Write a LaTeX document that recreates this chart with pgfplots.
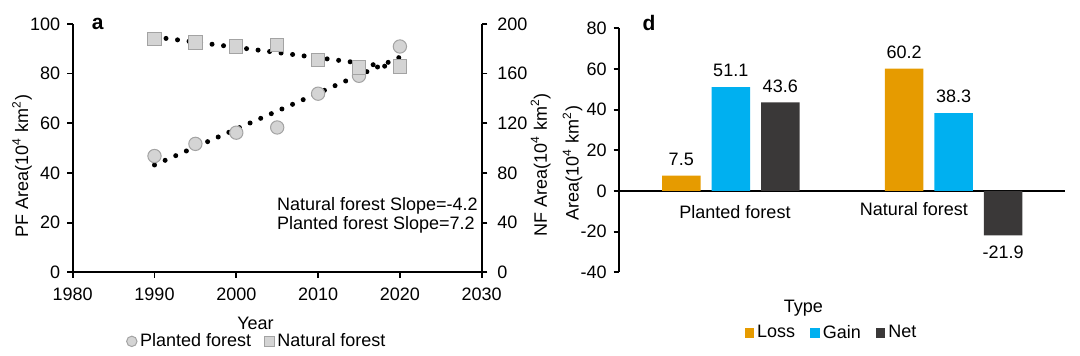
\documentclass[border=0pt]{standalone}
\usepackage{fontspec}
\setmainfont{Liberation Sans}
\usepackage{pgfplots}
\pgfplotsset{compat=1.18}
\definecolor{lossc}{HTML}{E69B00}
\definecolor{gainc}{HTML}{00B0F0}
\definecolor{netc}{HTML}{3A3838}
\definecolor{mfill}{HTML}{D4D4D4}
\definecolor{mdraw}{HTML}{A3A3A3}
\newcommand{\fs}{\fontsize{9}{10.8}\selectfont}
\begin{document}
\begin{tikzpicture}
\useasboundingbox (0,0) rectangle (540pt,178pt);
\pgfplotsset{
 base/.style={scale only axis, clip=false, font=\fs, tick label style={font=\fs}, label style={font=\fs},
  /pgf/number format/assume math mode=true, /pgf/number format/1000 sep={},
  axis line style={line width=0.9pt, black}, major tick style={line width=0.9pt, black},
  major tick length=2.8pt, tick align=outside},
 trend/.style={black, line width=2.5pt, line cap=round, dash pattern=on 0pt off 5.8pt, forget plot},
}
% ---- panel a, left axis (PF)
\begin{axis}[base, at={(36.35pt,41.85pt)}, anchor=south west, width=204.5pt, height=124.2pt,
 xmin=1980, xmax=2030, ymin=0, ymax=100, xtick={1980,1990,...,2030}, ytick={0,20,...,100},
 axis x line*=bottom, axis y line*=left,
 xticklabel style={yshift=-1.5pt},
 xlabel={Year}, xlabel style={at={(rel axis cs:0.447,0)}, anchor=center, yshift=-25.35pt},
 ylabel={PF Area(10\textsuperscript{4} km\textsuperscript{2})},
 ylabel style={at={(rel axis cs:0,0.428)}, anchor=center, yshift=25.3pt},
 legend style={at={(0.452,-0.278)}, anchor=center, draw=none, fill=none, font=\fs, inner sep=0pt,
  nodes={inner xsep=1.5pt, inner ysep=0pt},
  /tikz/every even column/.append style={column sep=5pt}},
 legend columns=2, legend cell align=left,
 legend image code/.code={\draw[#1, mark size=2.6pt] plot coordinates {(2.6pt,0pt)};},
]
\addplot[only marks, mark=*, mark size=3.33pt, mark options={fill=mfill, draw=mdraw, line width=0.5pt}]
 coordinates {(1990,46.8)(1995,51.7)(2000,56.2)(2005,58.3)(2010,71.9)(2015,79.1)(2020,90.9)};
\addlegendentry{Planted forest}
\addlegendimage{only marks, mark=square*, mark options={fill=mfill, draw=mdraw, line width=0.5pt}}
\addlegendentry{Natural forest}
\addplot[trend] coordinates {(1990,43.2)(2020,86.6)};
\node[anchor=base west, font=\fs, inner sep=0pt] at (axis cs:2004.94,24.7) {Natural forest Slope=-4.2};
\node[anchor=base west, font=\fs, inner sep=0pt] at (axis cs:2004.94,17.2) {Planted forest Slope=7.2};
\node[font=\fontsize{10.5}{12}\selectfont\bfseries, inner sep=0pt] at (axis cs:1983.07,100.1) {a};
\end{axis}
% ---- panel a, right axis (NF)
\begin{axis}[base, at={(36.35pt,41.85pt)}, anchor=south west, width=204.5pt, height=124.2pt,
 xmin=1980, xmax=2030, ymin=0, ymax=200, ytick={0,40,...,200},
 axis y line*=right, axis x line=none,
 yticklabel style={xshift=1.5pt},
 ylabel={NF Area(10\textsuperscript{4} km\textsuperscript{2})},
 ylabel style={at={(rel axis cs:1,0.432)}, anchor=center, yshift=-29.5pt},
]
\addplot[only marks, mark=square*, mark size=3.33pt, mark options={fill=mfill, draw=mdraw, line width=0.5pt}]
 coordinates {(1990,187.7)(1995,185.0)(2000,181.7)(2005,182.8)(2010,171.0)(2015,164.9)(2020,165.6)};
\addplot[trend] coordinates {(1990,189.5)(2020,164.4)};
\end{axis}
% ---- panel d
\begin{axis}[base, at={(309.65pt,41.85pt)}, anchor=south west, width=222.9pt, height=122pt,
 xmin=-0.5, xmax=1.5, ymin=-40, ymax=80, ytick={-40,-20,...,80},
 axis y line*=left, axis x line*=middle, xtick=\empty,
 ybar, bar width=19.25pt,
 ylabel={Area(10\textsuperscript{4} km\textsuperscript{2})},
 ylabel style={at={(rel axis cs:0,0.448)}, anchor=center, yshift=23.4pt},
 nodes near coords={\pgfmathprintnumber[fixed,fixed zerofill,precision=1]{\pgfplotspointmeta}},
 nodes near coords style={font=\fs, inner sep=4.8pt, black},
 legend style={at={(0.477,-0.249)}, anchor=center, draw=none, fill=none, font=\fs, inner sep=0pt,
  nodes={inner xsep=1.5pt, inner ysep=0pt},
  /tikz/every even column/.append style={column sep=6pt}},
 legend columns=3, legend cell align=left,
 legend image code/.code={\fill[#1,draw=none] (0pt,-2.4pt) rectangle (4.8pt,2.4pt);},
]
\addplot[fill=lossc, draw=none, bar shift=-24.75pt] coordinates {(0,7.5)(1,60.2)};
\addlegendentry{Loss}
\addplot[fill=gainc, draw=none, bar shift=0pt] coordinates {(0,51.1)(1,38.3)};
\addlegendentry{Gain}
\addplot[fill=netc, draw=none, bar shift=24.75pt] coordinates {(0,43.6)(1,-21.9)};
\addlegendentry{Net}
\node[font=\fs, inner sep=0pt] at (axis cs:0.019,-10.4) {Planted forest};
\node[font=\fs, inner sep=0pt] at (axis cs:0.822,-9.1) {Natural forest};
\node[font=\fontsize{10.5}{12}\selectfont\bfseries, inner sep=0pt] at (axis cs:-0.367,82.8) {d};
\end{axis}
\node[font=\fs, inner sep=0pt] at (401.65pt,24pt) {Type};
\end{tikzpicture}
\end{document}
